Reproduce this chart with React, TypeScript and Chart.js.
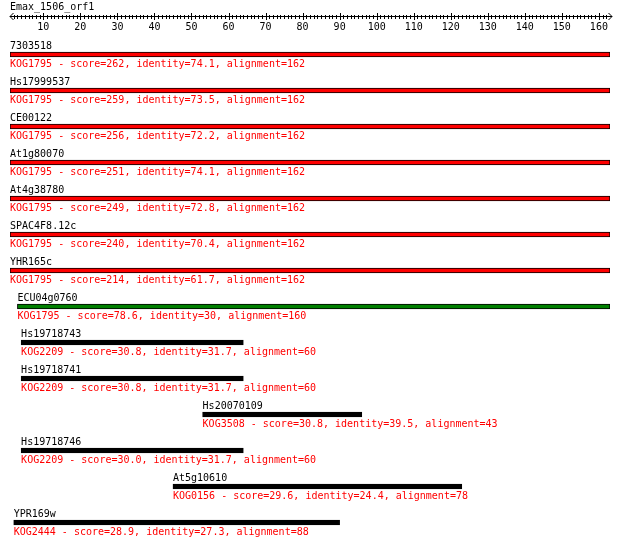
import React, { useEffect, useRef } from "react";
import { Chart, registerables } from "chart.js";

Chart.register(...registerables);

const queryName = "Emax_1506_orf1";
const queryLength = 162;
const tickLabels = [10, 20, 30, 40, 50, 60, 70, 80, 90, 100, 110, 120, 130, 140, 150, 160];

const hitNames = [
  "7303518", "Hs17999537", "CE00122", "At1g80070", "At4g38780", "SPAC4F8.12c", "YHR165c",
  "ECU04g0760", "Hs19718743", "Hs19718741", "Hs20070109", "Hs19718746", "At5g10610", "YPR169w",
];
const kogIds = [
  "KOG1795", "KOG1795", "KOG1795", "KOG1795", "KOG1795", "KOG1795", "KOG1795",
  "KOG1795", "KOG2209", "KOG2209", "KOG3508", "KOG2209", "KOG0156", "KOG2444",
];
const scores = ["262", "259", "256", "251", "249", "240", "214", "78.6", "30.8", "30.8", "30.8", "30.0", "29.6", "28.9"];
const identities = ["74.1", "73.5", "72.2", "74.1", "72.8", "70.4", "61.7", "30", "31.7", "31.7", "39.5", "31.7", "24.4", "27.3"];
const alignments = [162, 162, 162, 162, 162, 162, 162, 160, 60, 60, 43, 60, 78, 88];
const hitStarts = [1, 1, 1, 1, 1, 1, 1, 3, 4, 4, 53, 4, 45, 2];
const hitEnds = [162, 162, 162, 162, 162, 162, 162, 162, 63, 63, 95, 63, 122, 89];

const FONT = '10px "DejaVu Sans Mono", "Liberation Mono", monospace';

function scoreColor(s: number): string {
  if (s >= 200) return "#ff0000";
  if (s >= 80) return "#ff00ff";
  if (s >= 50) return "#008000";
  if (s >= 40) return "#0000ff";
  return "#000000";
}

const overlayPlugin = {
  id: "blastOverlay",
  afterDatasetsDraw(chart: any) {
    const ctx = chart.ctx as CanvasRenderingContext2D;
    const xs = chart.scales.x;
    const ys = chart.scales.y;
    ctx.save();
    ctx.font = FONT;
    ctx.textBaseline = "alphabetic";

    // title
    ctx.fillStyle = "#000";
    ctx.textAlign = "left";
    ctx.fillText(queryName, xs.getPixelForValue(1), 10);

    // axis
    const axisY = 16.5;
    const x0 = xs.getPixelForValue(1);
    const x1 = xs.getPixelForValue(queryLength + 1) + 2;
    ctx.strokeStyle = "#000";
    ctx.lineWidth = 1;
    ctx.beginPath();
    ctx.moveTo(x0, axisY);
    ctx.lineTo(x1, axisY);
    // arrows
    ctx.moveTo(x0, axisY);
    ctx.lineTo(x0 + 3.5, axisY - 3.5);
    ctx.moveTo(x0, axisY);
    ctx.lineTo(x0 + 3.5, axisY + 3.5);
    ctx.moveTo(x1, axisY);
    ctx.lineTo(x1 - 3.5, axisY - 3.5);
    ctx.moveTo(x1, axisY);
    ctx.lineTo(x1 - 3.5, axisY + 3.5);
    ctx.stroke();

    ctx.beginPath();
    for (let p = 2; p <= queryLength; p++) {
      const px = Math.round(xs.getPixelForValue(p)) + 0.5;
      const major = tickLabels.includes(p);
      const h = major ? 3 : 1.5;
      ctx.moveTo(px, Math.round(axisY - h - 0.5));
      ctx.lineTo(px, Math.round(axisY + h + 0.5));
    }
    ctx.stroke();

    ctx.textAlign = "center";
    tickLabels.forEach((t) => {
      ctx.fillText(String(t), xs.getPixelForValue(t), 29.5);
    });

    // hit labels
    ctx.textAlign = "left";
    hitNames.forEach((name, i) => {
      const cx = xs.getPixelForValue(hitStarts[i]);
      const cy = ys.getPixelForValue(i);
      ctx.fillStyle = "#000";
      ctx.fillText(name, cx, cy - 5.5);
      ctx.fillStyle = "#ff0000";
      ctx.fillText(
        `${kogIds[i]} - score=${scores[i]}, identity=${identities[i]}, alignment=${alignments[i]}`,
        cx,
        cy + 12
      );
    });
    ctx.restore();
  },
};

export default function App() {
  const ref = useRef<HTMLCanvasElement | null>(null);
  useEffect(() => {
    if (!ref.current) return;
    const chart = new Chart(ref.current, {
      type: "bar",
      data: {
        labels: hitNames,
        datasets: [
          {
            data: hitStarts.map((s, i) => [s, hitEnds[i] + 1]) as any,
            backgroundColor: scores.map((s) => scoreColor(parseFloat(s))),
            borderColor: "#000",
            borderWidth: 1,
            borderSkipped: false,
            barThickness: 5,
          },
        ],
      },
      options: {
        indexAxis: "y",
        responsive: false,
        animation: false,
        devicePixelRatio: 1,
        layout: { padding: { left: 10, right: 10, top: 36.5, bottom: 4.5 } },
        scales: {
          x: { type: "linear", min: 1, max: queryLength + 1, display: false },
          y: { type: "category", display: false, grid: { display: false } },
        },
        plugins: {
          legend: { display: false },
          tooltip: { enabled: false },
          title: { display: false },
        },
      },
      plugins: [overlayPlugin],
    });
    return () => chart.destroy();
  }, []);
  return (
    <div style={{ position: "fixed", left: 0, top: 0, width: 620, height: 545, background: "#fff" }}>
      <canvas ref={ref} width={620} height={545} style={{ width: 620, height: 545, display: "block" }} />
    </div>
  );
}
